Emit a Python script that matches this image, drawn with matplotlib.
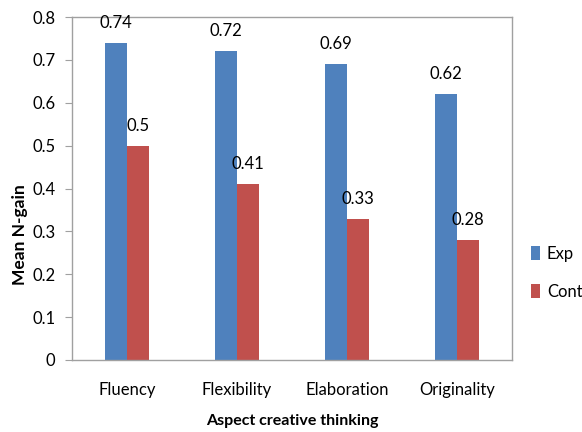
import matplotlib
matplotlib.use("Agg")
import matplotlib.pyplot as plt
import numpy as np

categories = ["Fluency", "Flexibility", "Elaboration", "Originality"]
exp_vals = [0.74, 0.72, 0.69, 0.62]
cont_vals = [0.5, 0.41, 0.33, 0.28]
exp_labels = ["0.74", "0.72", "0.69", "0.62"]
cont_labels = ["0.5", "0.41", "0.33", "0.28"]

plt.rcParams['font.family'] = ['Lato', 'DejaVu Sans']

fig = plt.figure(figsize=(5.82, 4.32), dpi=100)
ax = fig.add_axes([72/582, 72/432, 440/582, 343/432])

x = np.arange(len(categories))
w = 0.2
ax.bar(x - w/2, exp_vals, w, color="#4F81BD", label="Exp")
ax.bar(x + w/2, cont_vals, w, color="#C0504D", label="Cont")

for xi, v, t in zip(x, exp_vals, exp_labels):
    ax.text(xi - w/2, v + 0.028, t, ha="center", va="bottom", fontsize=12)
for xi, v, t in zip(x, cont_vals, cont_labels):
    ax.text(xi + w/2, v + 0.028, t, ha="center", va="bottom", fontsize=12)

ax.set_xlim(-0.5, 3.5)
ax.set_ylim(0, 0.8)
ax.set_yticks(np.arange(0, 0.81, 0.1))
ax.set_yticklabels(["0", "0.1", "0.2", "0.3", "0.4", "0.5", "0.6", "0.7", "0.8"], fontsize=12)
ax.set_xticks(x)
ax.set_xticklabels(categories, fontsize=12)
ax.tick_params(axis="x", length=0, pad=16)
ax.tick_params(axis="y", length=5, color="#A0A0A0", pad=7, direction="out")
for s in ax.spines.values():
    s.set_color("#A0A0A0")
    s.set_linewidth(1)

ax.set_xlabel("Aspect creative thinking", fontsize=11.5, fontweight="bold")
ax.xaxis.set_label_coords(0.5, -(421 - 360) / 343, transform=ax.transAxes)
ax.xaxis.label.set_va("center")
ax.set_ylabel("Mean N-gain", fontsize=12.5, fontweight="bold")
ax.yaxis.set_label_coords(-(72 - 20) / 440, (360 - 235) / 343)
ax.yaxis.label.set_va("center")

fig.legend(loc="upper left", bbox_to_anchor=(531/582, 1 - 246/432), frameon=False,
           fontsize=12, handlelength=0.55, handleheight=0.9, labelspacing=1.3,
           handletextpad=0.4, borderaxespad=0, borderpad=0)

fig.savefig("out.png", dpi=100)
